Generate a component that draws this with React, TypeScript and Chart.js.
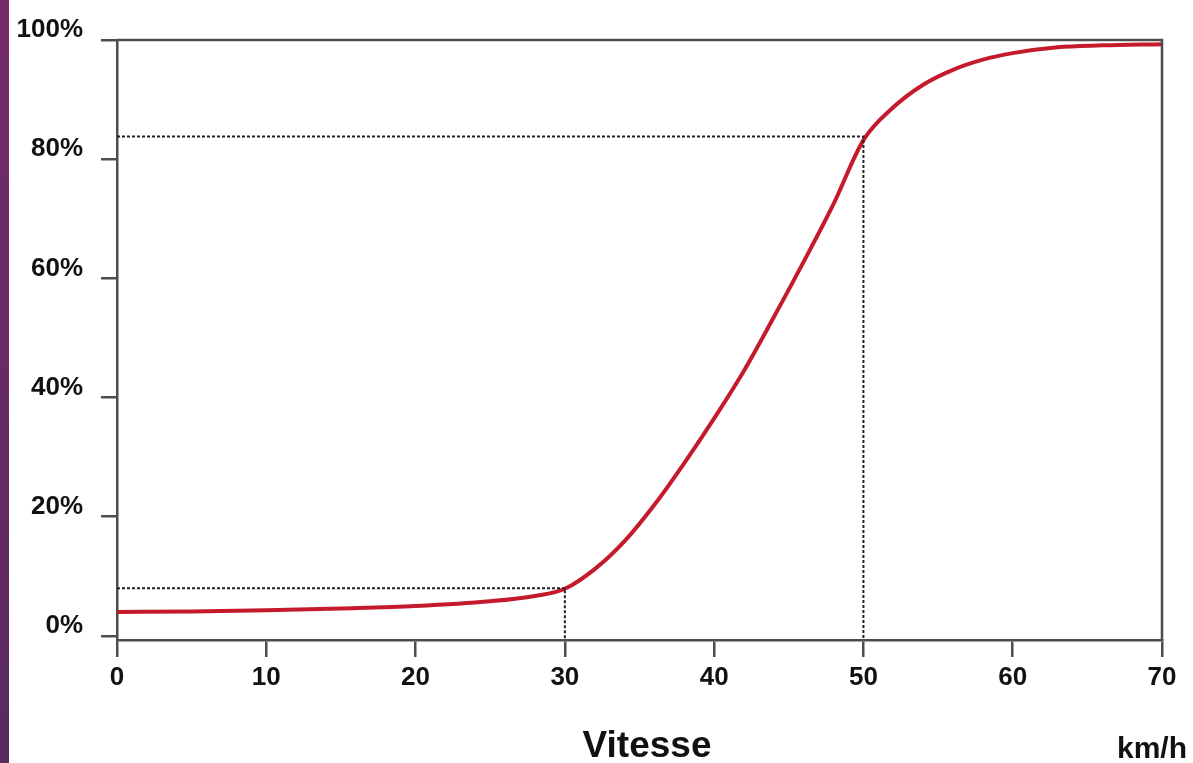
import React, { useEffect, useRef } from 'react';
import { Chart, registerables } from 'chart.js';
Chart.register(...registerables);

const speeds = [0, 5, 10, 15, 20, 25, 28, 30, 32, 34, 36, 38, 40, 42, 44, 46, 48, 50, 52, 54, 56, 58, 60, 63, 66, 70];
const probability = [4.0, 4.1, 4.3, 4.6, 5.0, 5.8, 6.7, 7.9, 11.2, 15.9, 22, 29, 36.5, 44.5, 53.5, 62.8, 72.5, 83.2, 88.7, 92.5, 95, 96.7, 97.8, 98.8, 99.1, 99.3];
const guideSpeeds = [30, 50];
const guideLevels = [8.0, 83.8];
const xTicks = [0, 10, 20, 30, 40, 50, 60, 70];
const yTicks = [0, 20, 40, 60, 80, 100];
const xTitle = 'Vitesse';
const unitLabel = 'km/h';

const Y_MIN = -0.7;
const FONT = '"Liberation Sans", Arial, sans-serif';

export default function App() {
  const ref = useRef<HTMLCanvasElement | null>(null);

  useEffect(() => {
    if (!ref.current) return;
    const curve = speeds.map((s, i) => ({ x: s, y: probability[i] }));
    const guides = guideSpeeds.map((s, i) => ({
      label: 'guide' + i,
      data: [
        { x: 0, y: guideLevels[i] },
        { x: s, y: guideLevels[i] },
        { x: s, y: Y_MIN },
      ],
      borderColor: '#222',
      borderWidth: 2,
      borderDash: [3, 2],
      pointRadius: 0,
      tension: 0,
      fill: false,
    }));

    const frame = {
      id: 'frame',
      afterDatasetsDraw(chart: any) {
        const { ctx, chartArea } = chart;
        ctx.save();
        ctx.strokeStyle = '#4d4d4d';
        ctx.lineWidth = 2.5;
        ctx.beginPath();
        ctx.moveTo(chartArea.left, chartArea.top);
        ctx.lineTo(chartArea.right, chartArea.top);
        ctx.lineTo(chartArea.right, chartArea.bottom);
        ctx.stroke();
        ctx.fillStyle = '#111';
        ctx.textAlign = 'center';
        ctx.textBaseline = 'alphabetic';
        ctx.font = 'bold 37px ' + FONT;
        ctx.fillText(xTitle, 647, 757);
        ctx.font = 'bold 30px ' + FONT;
        ctx.fillText(unitLabel, 1152, 758);
        ctx.restore();
      },
    };

    const chart = new Chart(ref.current, {
      type: 'line',
      data: {
        datasets: [
          ...guides,
          {
            label: 'curve',
            data: curve,
            borderColor: '#c41a2c',
            borderWidth: 4,
            pointRadius: 0,
            cubicInterpolationMode: 'monotone',
            fill: false,
          },
        ] as any,
      },
      options: {
        responsive: false,
        animation: false,
        events: [],
        layout: { padding: { left: 0, top: 40, right: 31, bottom: 0 } },
        plugins: { legend: { display: false }, tooltip: { enabled: false } },
        scales: {
          x: {
            type: 'linear',
            min: 0,
            max: 70,
            afterBuildTicks: (scale: any) => {
              scale.ticks = xTicks.map((v) => ({ value: v }));
            },
            afterFit: (scale: any) => {
              scale.height = 123;
            },
            grid: { drawOnChartArea: false, drawTicks: true, tickLength: 17, color: '#4d4d4d', lineWidth: 2.5 },
            border: { color: '#4d4d4d', width: 2.5 },
            ticks: {
              padding: 5,
              color: '#111',
              font: { family: FONT, size: 26, weight: 'bold' },
              maxRotation: 0,
            },
          },
          y: {
            type: 'linear',
            min: Y_MIN,
            max: 100,
            afterBuildTicks: (scale: any) => {
              scale.ticks = yTicks.map((v) => ({ value: v }));
            },
            afterFit: (scale: any) => {
              scale.width = 117;
            },
            grid: { drawOnChartArea: false, drawTicks: true, tickLength: 16, color: '#4d4d4d', lineWidth: 2.5 },
            border: { color: '#4d4d4d', width: 2.5 },
            ticks: {
              padding: 18,
              labelOffset: -10,
              color: '#111',
              font: { family: FONT, size: 26, weight: 'bold' },
              callback: (v: any) => v + '%',
            },
          },
        },
      } as any,
      plugins: [frame],
    });
    return () => chart.destroy();
  }, []);

  return (
    <div style={{ position: 'fixed', left: 0, top: 0, width: 1193, height: 763, background: '#fff', overflow: 'hidden' }}>
      <div
        style={{
          position: 'absolute',
          left: 0,
          top: 0,
          width: 9,
          height: 763,
          background: 'linear-gradient(#742c68, #5a2a5c)',
        }}
      />
      <canvas ref={ref} width={1193} height={763} style={{ position: 'absolute', left: 0, top: 0, width: 1193, height: 763 }} />
    </div>
  );
}
